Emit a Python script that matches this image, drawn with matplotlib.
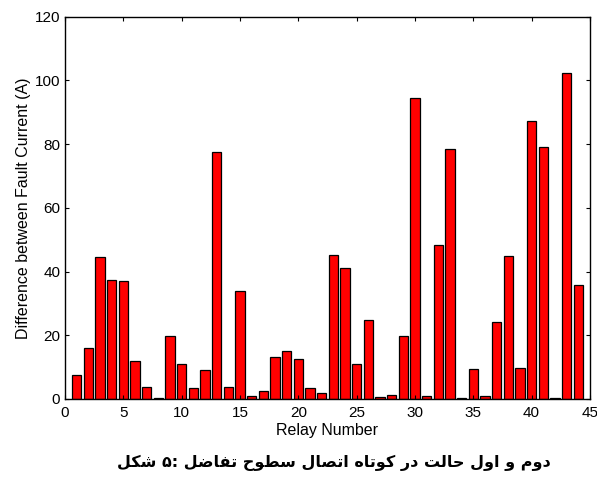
import numpy as np
import matplotlib
matplotlib.use('Agg')
import matplotlib.pyplot as plt

# relay numbers and difference in fault current (A)
relays = np.arange(1, 45)
diff_current = [7.4, 15.9, 44.5, 37.2, 37.0, 12.0, 3.8, 0.3, 19.9, 10.8,
                3.5, 9.0, 77.5, 3.8, 33.9, 1.0, 2.5, 13.0, 15.1, 12.4,
                3.5, 2.0, 45.2, 41.2, 11.1, 24.7, 0.7, 1.3, 19.9, 94.6,
                1.0, 48.2, 78.4, 0.4, 9.3, 1.0, 24.1, 44.9, 9.8, 87.2,
                79.1, 0.2, 102.5, 35.7]

xticks = [0, 5, 10, 15, 20, 25, 30, 35, 40, 45]
yticks = [0, 20, 40, 60, 80, 100, 120]

# caption words, shaped with Arabic presentation forms (logical order inside each word)
caption_words = [
    '\uFEB7\uFB91\uFEDE',                    # shekl
    '\u06F5',                                 # 5
    '\uFE97\uFED4\uFE8E\uFEBF\uFEDE',        # tafazol
    '\uFEB3\uFEC4\uFEEE\uFEA1',              # sotooh
    '\uFE8D\uFE97\uFEBC\uFE8E\uFEDD',        # ettesal
    '\uFB90\uFEEE\uFE97\uFE8E\uFEE9',        # kootah
    '\uFEA9\uFEAD',                           # dar
    '\uFEA3\uFE8E\uFEDF\uFE96',              # halat
    '\uFE8D\uFEED\uFEDD',                     # aval
    '\uFEED',                                 # va
    '\uFEA9\uFEED\uFEE1',                     # dovom
]

plt.rcParams['font.family'] = ['Liberation Sans', 'DejaVu Sans']

fig = plt.figure(figsize=(5.97, 4.8), dpi=100)
ax = fig.add_axes([0.109, 0.169, 0.879, 0.796])

ax.bar(relays, diff_current, width=0.8, color='#ff0000', edgecolor='black', linewidth=0.9)

ax.set_xlim(0, 45)
ax.set_ylim(0, 120)
ax.set_xticks(xticks)
ax.set_yticks(yticks)
ax.tick_params(direction='in', top=True, right=True, labelsize=11, length=3)
ax.tick_params(axis='x', pad=5)
for s in ax.spines.values():
    s.set_linewidth(1.0)

ax.set_xlabel('Relay Number', fontsize=11.5, labelpad=2)
ax.set_ylabel('Difference between Fault Current (A)', fontsize=11.5, labelpad=3)

# each word drawn right-to-left, words kept in the picture's left-to-right order
words = [w[::-1] for w in caption_words]
caption = words[0] + ' ' + words[1] + ': ' + ' '.join(words[2:])
fig.text(0.56, 0.035, caption, ha='center', va='center', fontsize=11.5,
         fontweight='bold', family=['DejaVu Sans'])

fig.savefig('out.png', dpi=100)
